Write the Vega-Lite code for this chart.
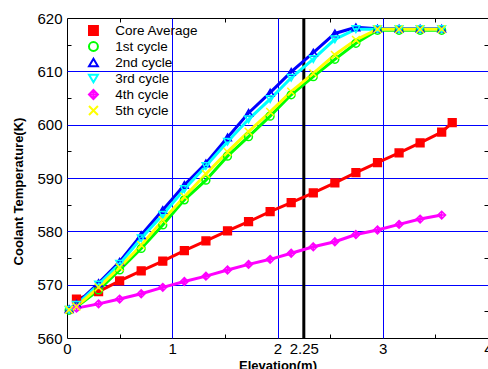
{
  "$schema": "https://vega.github.io/schema/vega-lite/v6.json",
  "width": 421,
  "height": 320,
  "autosize": {"type": "none"},
  "padding": {"left": 67, "top": 18, "right": 0, "bottom": 31},
  "background": "white",
  "config": {"view": {"stroke": "black", "strokeWidth": 1}, "font": "Liberation Sans"},
  "datasets": {
    "ref": [{"x": 2.25}],
    "pts": [
      {"s": "Core Average", "x": 0.09, "y": 567.3},
      {"s": "Core Average", "x": 0.30, "y": 568.7},
      {"s": "Core Average", "x": 0.50, "y": 570.7},
      {"s": "Core Average", "x": 0.705, "y": 572.6},
      {"s": "Core Average", "x": 0.91, "y": 574.4},
      {"s": "Core Average", "x": 1.115, "y": 576.4},
      {"s": "Core Average", "x": 1.32, "y": 578.2},
      {"s": "Core Average", "x": 1.525, "y": 580.1},
      {"s": "Core Average", "x": 1.725, "y": 581.8},
      {"s": "Core Average", "x": 1.93, "y": 583.7},
      {"s": "Core Average", "x": 2.13, "y": 585.4},
      {"s": "Core Average", "x": 2.34, "y": 587.2},
      {"s": "Core Average", "x": 2.545, "y": 589.1},
      {"s": "Core Average", "x": 2.745, "y": 591.0},
      {"s": "Core Average", "x": 2.95, "y": 592.9},
      {"s": "Core Average", "x": 3.155, "y": 594.7},
      {"s": "Core Average", "x": 3.355, "y": 596.6},
      {"s": "Core Average", "x": 3.56, "y": 598.6},
      {"s": "Core Average", "x": 3.66, "y": 600.4},
      {"s": "1st cycle", "x": 0.02, "y": 565.2},
      {"s": "1st cycle", "x": 0.09, "y": 565.8},
      {"s": "1st cycle", "x": 0.30, "y": 569.0},
      {"s": "1st cycle", "x": 0.50, "y": 572.75},
      {"s": "1st cycle", "x": 0.705, "y": 576.8},
      {"s": "1st cycle", "x": 0.91, "y": 581.2},
      {"s": "1st cycle", "x": 1.115, "y": 585.9},
      {"s": "1st cycle", "x": 1.32, "y": 589.6},
      {"s": "1st cycle", "x": 1.525, "y": 594.1},
      {"s": "1st cycle", "x": 1.725, "y": 597.75},
      {"s": "1st cycle", "x": 1.93, "y": 601.6},
      {"s": "1st cycle", "x": 2.13, "y": 605.6},
      {"s": "1st cycle", "x": 2.34, "y": 609.0},
      {"s": "1st cycle", "x": 2.545, "y": 612.25},
      {"s": "1st cycle", "x": 2.745, "y": 615.25},
      {"s": "1st cycle", "x": 2.95, "y": 617.7},
      {"s": "1st cycle", "x": 3.155, "y": 617.7},
      {"s": "1st cycle", "x": 3.355, "y": 617.7},
      {"s": "1st cycle", "x": 3.56, "y": 617.7},
      {"s": "2nd cycle", "x": 0.02, "y": 565.4},
      {"s": "2nd cycle", "x": 0.09, "y": 566.4},
      {"s": "2nd cycle", "x": 0.30, "y": 570.3},
      {"s": "2nd cycle", "x": 0.50, "y": 574.3},
      {"s": "2nd cycle", "x": 0.705, "y": 579.3},
      {"s": "2nd cycle", "x": 0.91, "y": 584.0},
      {"s": "2nd cycle", "x": 1.115, "y": 588.7},
      {"s": "2nd cycle", "x": 1.32, "y": 592.75},
      {"s": "2nd cycle", "x": 1.525, "y": 597.6},
      {"s": "2nd cycle", "x": 1.725, "y": 602.2},
      {"s": "2nd cycle", "x": 1.93, "y": 606.0},
      {"s": "2nd cycle", "x": 2.13, "y": 609.9},
      {"s": "2nd cycle", "x": 2.34, "y": 613.5},
      {"s": "2nd cycle", "x": 2.545, "y": 617.1},
      {"s": "2nd cycle", "x": 2.745, "y": 618.25},
      {"s": "2nd cycle", "x": 2.95, "y": 618.0},
      {"s": "2nd cycle", "x": 3.155, "y": 618.0},
      {"s": "2nd cycle", "x": 3.355, "y": 618.0},
      {"s": "2nd cycle", "x": 3.56, "y": 618.0},
      {"s": "3rd cycle", "x": 0.02, "y": 565.3},
      {"s": "3rd cycle", "x": 0.09, "y": 566.2},
      {"s": "3rd cycle", "x": 0.30, "y": 570.0},
      {"s": "3rd cycle", "x": 0.50, "y": 573.9},
      {"s": "3rd cycle", "x": 0.705, "y": 578.7},
      {"s": "3rd cycle", "x": 0.91, "y": 583.1},
      {"s": "3rd cycle", "x": 1.115, "y": 587.9},
      {"s": "3rd cycle", "x": 1.32, "y": 592.25},
      {"s": "3rd cycle", "x": 1.525, "y": 596.8},
      {"s": "3rd cycle", "x": 1.725, "y": 601.0},
      {"s": "3rd cycle", "x": 1.93, "y": 604.8},
      {"s": "3rd cycle", "x": 2.13, "y": 608.8},
      {"s": "3rd cycle", "x": 2.34, "y": 612.3},
      {"s": "3rd cycle", "x": 2.545, "y": 616.0},
      {"s": "3rd cycle", "x": 2.745, "y": 617.9},
      {"s": "3rd cycle", "x": 2.95, "y": 617.9},
      {"s": "3rd cycle", "x": 3.155, "y": 617.9},
      {"s": "3rd cycle", "x": 3.355, "y": 617.9},
      {"s": "3rd cycle", "x": 3.56, "y": 617.9},
      {"s": "4th cycle", "x": 0.09, "y": 565.6},
      {"s": "4th cycle", "x": 0.30, "y": 566.4},
      {"s": "4th cycle", "x": 0.50, "y": 567.3},
      {"s": "4th cycle", "x": 0.705, "y": 568.3},
      {"s": "4th cycle", "x": 0.91, "y": 569.5},
      {"s": "4th cycle", "x": 1.115, "y": 570.6},
      {"s": "4th cycle", "x": 1.32, "y": 571.6},
      {"s": "4th cycle", "x": 1.525, "y": 572.75},
      {"s": "4th cycle", "x": 1.725, "y": 573.8},
      {"s": "4th cycle", "x": 1.93, "y": 574.75},
      {"s": "4th cycle", "x": 2.13, "y": 575.9},
      {"s": "4th cycle", "x": 2.34, "y": 577.1},
      {"s": "4th cycle", "x": 2.545, "y": 578.05},
      {"s": "4th cycle", "x": 2.745, "y": 579.4},
      {"s": "4th cycle", "x": 2.95, "y": 580.25},
      {"s": "4th cycle", "x": 3.155, "y": 581.3},
      {"s": "4th cycle", "x": 3.355, "y": 582.3},
      {"s": "4th cycle", "x": 3.56, "y": 583.05},
      {"s": "5th cycle", "x": 0.02, "y": 565.3},
      {"s": "5th cycle", "x": 0.09, "y": 565.9},
      {"s": "5th cycle", "x": 0.30, "y": 569.5},
      {"s": "5th cycle", "x": 0.50, "y": 573.25},
      {"s": "5th cycle", "x": 0.705, "y": 577.4},
      {"s": "5th cycle", "x": 0.91, "y": 582.1},
      {"s": "5th cycle", "x": 1.115, "y": 586.5},
      {"s": "5th cycle", "x": 1.32, "y": 590.75},
      {"s": "5th cycle", "x": 1.525, "y": 594.9},
      {"s": "5th cycle", "x": 1.725, "y": 598.7},
      {"s": "5th cycle", "x": 1.93, "y": 602.4},
      {"s": "5th cycle", "x": 2.13, "y": 606.2},
      {"s": "5th cycle", "x": 2.34, "y": 609.6},
      {"s": "5th cycle", "x": 2.545, "y": 613.1},
      {"s": "5th cycle", "x": 2.745, "y": 615.9},
      {"s": "5th cycle", "x": 2.95, "y": 617.9},
      {"s": "5th cycle", "x": 3.155, "y": 617.9},
      {"s": "5th cycle", "x": 3.355, "y": 617.9},
      {"s": "5th cycle", "x": 3.56, "y": 617.9}
    ]
  },
  "layer": [
    {
      "data": {"name": "ref"},
      "mark": {"type": "rule", "color": "black", "strokeWidth": 3},
      "encoding": {
        "x": {"field": "x", "type": "quantitative", "scale": {"domain": [0, 4], "nice": false, "zero": false}, "axis": null}
      }
    },
    {
      "data": {"name": "pts"},
      "mark": {"type": "line", "strokeWidth": 3},
      "encoding": {
        "x": {
          "field": "x", "type": "quantitative",
          "scale": {"domain": [0, 4], "nice": false, "zero": false},
          "axis": {
            "orient": "bottom",
            "values": [0, 0.5, 1, 1.5, 2, 2.25, 2.5, 3, 3.5, 4],
            "format": ".2~f",
            "labelExpr": "(datum.value == 0.5 || datum.value == 1.5 || datum.value == 2.5 || datum.value == 3.5) ? '' : datum.label",
            "labelFont": "Liberation Sans", "labelFontSize": 15, "labelColor": "black",
            "labelPadding": 3, "labelFlush": false, "labelOverlap": false,
            "domain": false,
            "ticks": true, "tickColor": "black", "tickWidth": 1,
            "tickSize": {"condition": {"test": "datum.value == 0.5 || datum.value == 1.5 || datum.value == 2.5 || datum.value == 3.5", "value": -4}, "value": 0},
            "grid": true, "gridColor": "#0000ff", "gridWidth": 1,
            "gridOpacity": {"condition": {"test": "datum.value == 1 || datum.value == 2 || datum.value == 3", "value": 1}, "value": 0},
            "title": "Elevation(m)", "titleFont": "Liberation Sans", "titleFontSize": 13, "titleFontWeight": "bold", "titleColor": "black",
            "titleX": 210.5, "titleY": 31, "titleBaseline": "alphabetic", "titleAlign": "center"
          }
        },
        "y": {
          "field": "y", "type": "quantitative",
          "scale": {"domain": [560, 620], "nice": false, "zero": false},
          "axis": {
            "orient": "left",
            "values": [560, 565, 570, 575, 580, 585, 590, 595, 600, 605, 610, 615, 620],
            "format": "d",
            "labelExpr": "datum.value % 10 == 0 ? datum.label : ''",
            "labelFont": "Liberation Sans", "labelFontSize": 15, "labelColor": "black",
            "labelPadding": 5, "labelFlush": false, "labelOverlap": false,
            "domain": false,
            "ticks": true, "tickColor": "black", "tickWidth": 1,
            "tickSize": {"condition": {"test": "datum.value % 10 != 0", "value": -4}, "value": 0},
            "grid": true, "gridColor": "#0000ff", "gridWidth": 1,
            "gridOpacity": {"condition": {"test": "datum.value % 10 == 0 && datum.value > 560 && datum.value < 620", "value": 1}, "value": 0},
            "title": "Coolant Temperature(K)", "titleFont": "Liberation Sans", "titleFontSize": 13, "titleFontWeight": "bold", "titleColor": "black",
            "titleX": -49, "titleY": 173, "titleBaseline": "middle", "titleAlign": "center", "titleAngle": -90
          }
        },
        "color": {
          "field": "s", "type": "nominal", "sort": null,
          "scale": {"domain": ["Core Average", "1st cycle", "2nd cycle", "3rd cycle", "4th cycle", "5th cycle"], "range": ["#ff0000", "#00ff00", "#0000ff", "#00ffff", "#ff00ff", "#ffff00"]},
          "legend": {
            "title": null, "orient": "none", "legendX": 19.7, "legendY": 4.5, "padding": 0,
            "symbolSize": 80, "clipHeight": 16, "rowPadding": 0, "labelOffset": 15,
            "labelFont": "Liberation Sans", "labelFontSize": 13.5, "labelColor": "black",
            "symbolStrokeWidth": 2, "symbolOpacity": 1,
            "encoding": {
              "symbols": {
                "fill": {"condition": {"test": "datum.value === 'Core Average'", "value": "#ff0000"}, "value": "#ffffff"},
                "strokeWidth": {"value": 2},
                "size": {"value": 80},
                "opacity": {"value": 1}
              }
            }
          }
        }
      }
    },
    {
      "data": {"name": "pts"},
      "mark": {"type": "point", "filled": false, "size": 60, "strokeWidth": 1.5, "opacity": 1},
      "encoding": {
        "x": {
          "field": "x", "type": "quantitative",
          "axis": {"orient": "top", "values": [0.5, 1.5, 2.5, 3.5], "labels": false, "domain": false, "grid": false, "ticks": true, "tickSize": -4, "tickColor": "black", "title": null}
        },
        "y": {
          "field": "y", "type": "quantitative",
          "axis": {"orient": "right", "values": [565, 575, 585, 595, 605, 615], "labels": false, "domain": false, "grid": false, "ticks": true, "tickSize": -4, "tickColor": "black", "title": null}
        },
        "color": {
          "field": "s", "type": "nominal", "sort": null,
          "legend": {
            "title": null, "orient": "none", "legendX": 19.7, "legendY": 4.5, "padding": 0,
            "symbolSize": 80, "clipHeight": 16, "rowPadding": 0, "labelOffset": 15,
            "labelFont": "Liberation Sans", "labelFontSize": 13.5, "labelColor": "black",
            "symbolStrokeWidth": 2, "symbolOpacity": 1,
            "encoding": {
              "symbols": {
                "fill": {"condition": {"test": "datum.value === 'Core Average'", "value": "#ff0000"}, "value": "#ffffff"},
                "strokeWidth": {"value": 2},
                "size": {"value": 80},
                "opacity": {"value": 1}
              }
            }
          }
        },
        "shape": {
          "field": "s", "type": "nominal", "sort": null,
          "scale": {"domain": ["Core Average", "1st cycle", "2nd cycle", "3rd cycle", "4th cycle", "5th cycle"], "range": ["square", "circle", "triangle-up", "triangle-down", "M0,-1L1,0L0,1L-1,0ZM0,-1L0,1M-1,0L1,0", "M-1,-1L1,1M1,-1L-1,1"]},
          "legend": null
        },
        "fill": {"condition": {"test": "datum.s === 'Core Average'", "value": "#ff0000"}, "value": "transparent"}
      }
    }
  ],
  "resolve": {"axis": {"x": "independent", "y": "independent"}}
}
